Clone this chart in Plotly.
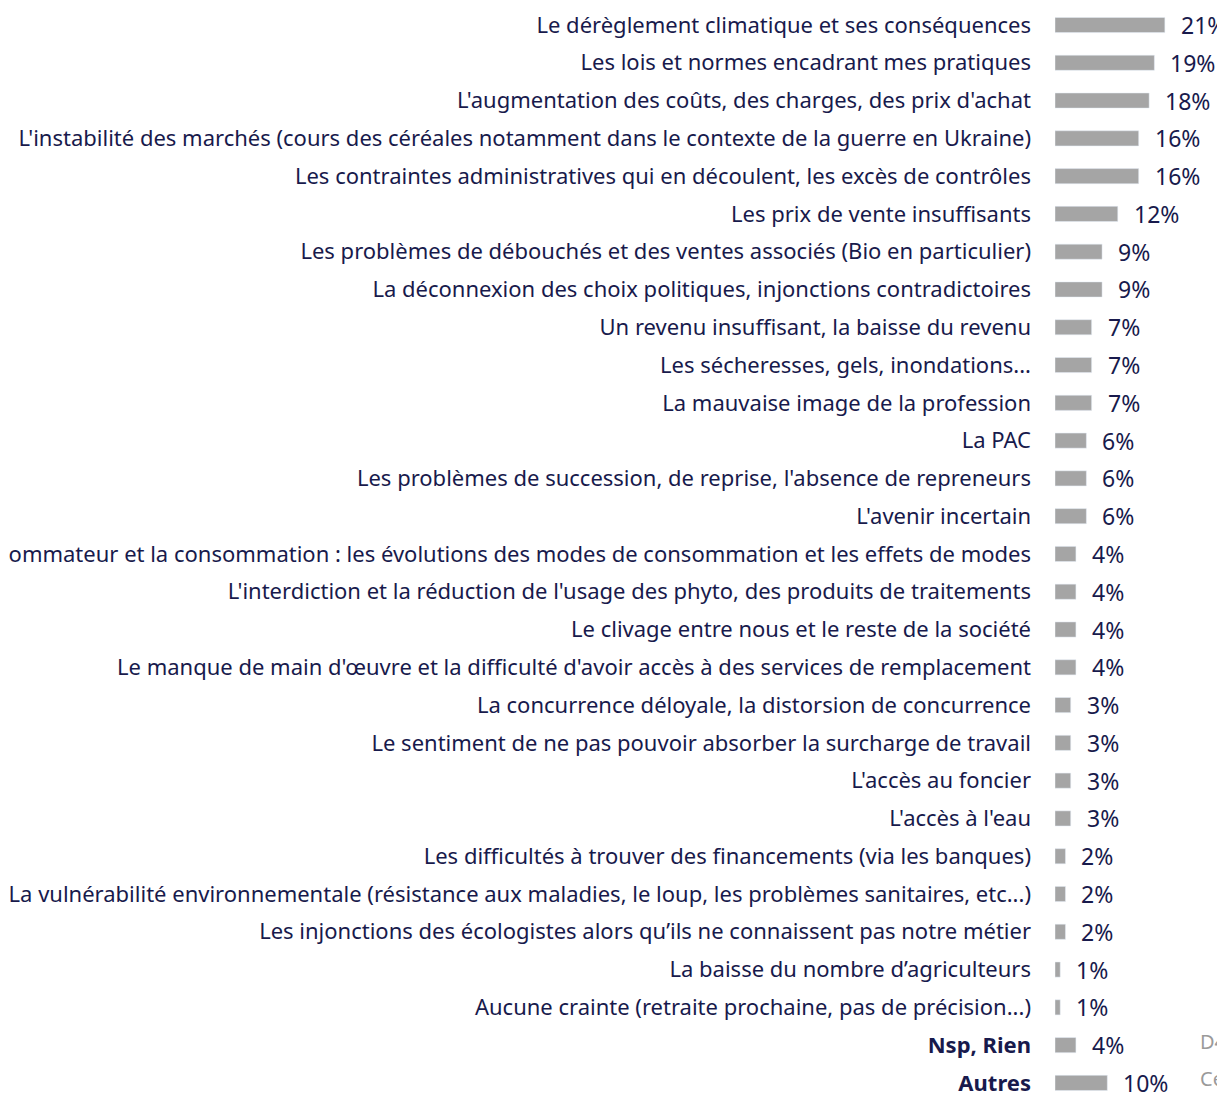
import plotly.graph_objects as go

# Craintes pour l'avenir (% de citations)
labels = [
    "Le dérèglement climatique et ses conséquences",
    "Les lois et normes encadrant mes pratiques",
    "L'augmentation des coûts, des charges, des prix d'achat",
    "L'instabilité des marchés (cours des céréales notamment dans le contexte de la guerre en Ukraine)",
    "Les contraintes administratives qui en découlent, les excès de contrôles",
    "Les prix de vente insuffisants",
    "Les problèmes de débouchés et des ventes associés (Bio en particulier)",
    "La déconnexion des choix politiques, injonctions contradictoires",
    "Un revenu insuffisant, la baisse du revenu",
    "Les sécheresses, gels, inondations...",
    "La mauvaise image de la profession",
    "La PAC",
    "Les problèmes de succession, de reprise, l'absence de repreneurs",
    "L'avenir incertain",
    "Le consommateur et la consommation : les évolutions des modes de consommation et les effets de modes",
    "L'interdiction et la réduction de l'usage des phyto, des produits de traitements",
    "Le clivage entre nous et le reste de la société",
    "Le manque de main d'œuvre et la difficulté d'avoir accès à des services de remplacement",
    "La concurrence déloyale, la distorsion de concurrence",
    "Le sentiment de ne pas pouvoir absorber la surcharge de travail",
    "L'accès au foncier",
    "L'accès à l'eau",
    "Les difficultés à trouver des financements (via les banques)",
    "La vulnérabilité environnementale (résistance aux maladies, le loup, les problèmes sanitaires, etc...)",
    "Les injonctions des écologistes alors qu’ils ne connaissent pas notre métier",
    "La baisse du nombre d’agriculteurs",
    "Aucune crainte (retraite prochaine, pas de précision...)",
    "Nsp, Rien",
    "Autres",
]
values = [21, 19, 18, 16, 16, 12, 9, 9, 7, 7, 7, 6, 6, 6, 4, 4, 4, 4,
          3, 3, 3, 3, 2, 2, 2, 1, 1, 4, 10]
bold_labels = ["Nsp, Rien", "Autres"]
side_notes = ["D4", "Ce"]  # texte gris coupé au bord droit

NAVY = "#181a4c"
GREY = "#a5a5a5"

tick_text = [f"<b>{l}</b>" if l in bold_labels else l for l in labels]

fig = go.Figure(go.Bar(
    x=values,
    y=labels,
    orientation="h",
    width=0.4,
    marker=dict(color=GREY),
    hoverinfo="skip",
))

for lab, v in zip(labels, values):
    fig.add_annotation(
        x=v, y=lab, text=f"{v}%", showarrow=False,
        xanchor="left", xshift=14, yshift=0,
        font=dict(family="Noto Sans", size=23, color=NAVY),
    )

for txt, lab in zip(side_notes, labels[-2:]):
    fig.add_annotation(
        x=1.0, y=lab, xref="paper", text=txt, showarrow=False,
        xanchor="left", xshift=-27, yshift=4,
        font=dict(family="Noto Sans", size=20, color="#9a9a9a"),
    )

fig.update_layout(
    width=1217,
    height=1087,
    margin=dict(l=1047, r=0, t=0, b=0),
    plot_bgcolor="white",
    paper_bgcolor="white",
    showlegend=False,
    font=dict(family="Noto Sans", size=22, color=NAVY),
)

fig.update_xaxes(range=[0, 32.5], visible=False, showgrid=False)
fig.update_yaxes(
    categoryorder="array", categoryarray=labels,
    range=[28.32, -0.45], automargin=False,
    tickmode="array", tickvals=labels, ticktext=tick_text,
    showgrid=False, ticks="", ticklabelstandoff=23,
)

fig.write_html("out.html")
